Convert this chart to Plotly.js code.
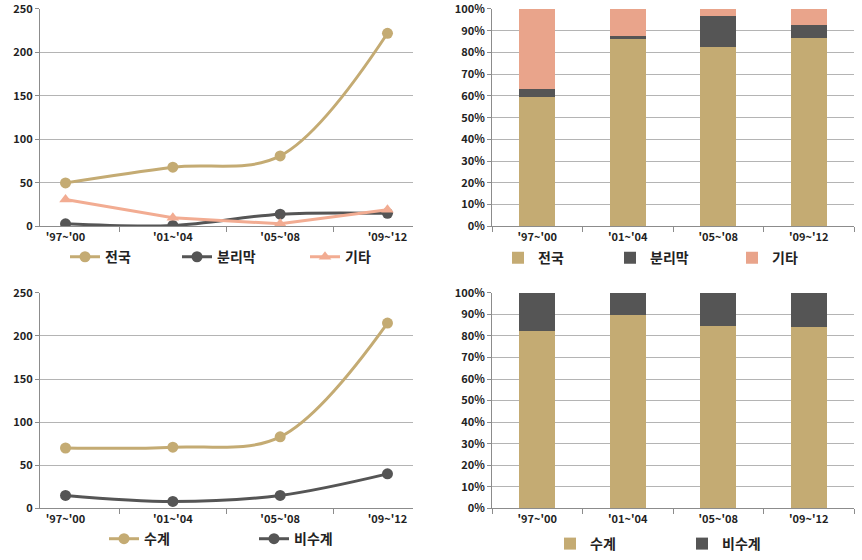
<!DOCTYPE html>
<html>
<head>
<meta charset="utf-8">
<script src="https://cdn.plot.ly/plotly-3.0.1.min.js"></script>
<style>html,body{margin:0;padding:0;background:#fff;}#chart{width:862px;height:560px;}</style>
</head>
<body>
<div id="chart"></div>
<script>
// Categories (periods)
const periods = ["'97~'00", "'01~'04", "'05~'08", "'09~'12"];

// Chart 1: by technology type
const jeonguk = [50, 68, 81, 222];    // 전국
const bunrimak = [3, 1, 14, 15];      // 분리막
const gita = [31, 10, 3, 19];         // 기타

// Chart 2: aqueous vs non-aqueous
const sugye = [70, 71, 83, 215];      // 수계
const bisugye = [15, 8, 15, 40];      // 비수계

const TAN = '#C4AB73';
const DARK = '#555555';
const SALMON = '#F2AC92';
const SALMON_BAR = '#E9A48B';
const FONT = '"Noto Sans CJK KR", "Noto Sans", sans-serif';

const traces = [
  // top-left line chart
  {x: periods, y: jeonguk, name: '전국', type: 'scatter', mode: 'lines+markers',
   line: {color: TAN, width: 3, shape: 'spline', smoothing: 1},
   marker: {color: TAN, size: 11, symbol: 'circle'}, xaxis: 'x', yaxis: 'y', legend: 'legend'},
  {x: periods, y: bunrimak, name: '분리막', type: 'scatter', mode: 'lines+markers',
   line: {color: DARK, width: 3, shape: 'spline', smoothing: 1},
   marker: {color: DARK, size: 11, symbol: 'circle'}, xaxis: 'x', yaxis: 'y', legend: 'legend2'},
  {x: periods, y: gita, name: '기타', type: 'scatter', mode: 'lines+markers',
   line: {color: SALMON, width: 3},
   marker: {color: SALMON, size: 11, symbol: 'triangle-up'}, xaxis: 'x', yaxis: 'y', legend: 'legend3'},
  // top-right stacked 100% bars
  {x: periods, y: jeonguk, name: '전국', type: 'bar', marker: {color: TAN},
   xaxis: 'x2', yaxis: 'y2', legend: 'legend4'},
  {x: periods, y: bunrimak, name: '분리막', type: 'bar', marker: {color: DARK},
   xaxis: 'x2', yaxis: 'y2', legend: 'legend5'},
  {x: periods, y: gita, name: '기타', type: 'bar', marker: {color: SALMON_BAR},
   xaxis: 'x2', yaxis: 'y2', legend: 'legend6'},
  // bottom-left line chart
  {x: periods, y: sugye, name: '수계', type: 'scatter', mode: 'lines+markers',
   line: {color: TAN, width: 3, shape: 'spline', smoothing: 1},
   marker: {color: TAN, size: 11, symbol: 'circle'}, xaxis: 'x3', yaxis: 'y3', legend: 'legend7'},
  {x: periods, y: bisugye, name: '비수계', type: 'scatter', mode: 'lines+markers',
   line: {color: DARK, width: 3, shape: 'spline', smoothing: 1},
   marker: {color: DARK, size: 11, symbol: 'circle'}, xaxis: 'x3', yaxis: 'y3', legend: 'legend8'},
  // bottom-right stacked 100% bars
  {x: periods, y: sugye, name: '수계', type: 'bar', marker: {color: TAN},
   xaxis: 'x4', yaxis: 'y4', legend: 'legend9'},
  {x: periods, y: bisugye, name: '비수계', type: 'bar', marker: {color: DARK},
   xaxis: 'x4', yaxis: 'y4', legend: 'legend10'}
];

const W = 862, H = 560;
const px = v => v / W;
const py = v => 1 - v / H;

const tickFont = {family: FONT, size: 11, color: '#222', weight: 'bold'};
const legFont = {family: FONT, size: 14, color: '#222', weight: 'bold'};

function xAxis(d0, d1, anchor) {
  return {domain: [px(d0), px(d1)], anchor: anchor, type: 'category',
    showline: true, linecolor: '#8C8C8C', linewidth: 1,
    ticks: 'outside', tickson: 'boundaries', ticklen: 5, tickcolor: '#8C8C8C',
    showgrid: false, zeroline: false, tickfont: tickFont, fixedrange: true};
}
function yAxis(d0, d1, anchor, opts) {
  return Object.assign({domain: [py(d1), py(d0)], anchor: anchor,
    showline: true, linecolor: '#8C8C8C', linewidth: 1,
    ticks: 'outside', ticklen: 4, tickcolor: '#8C8C8C',
    showgrid: true, gridcolor: '#B4B4B4', gridwidth: 1, zeroline: false,
    ticklabeloverflow: 'allow',
    tickfont: tickFont, fixedrange: true}, opts);
}
function legend(x, y) {
  return {orientation: 'h', x: px(x), y: py(y), xanchor: 'left', yanchor: 'middle',
    font: legFont, bgcolor: 'rgba(0,0,0,0)', itemwidth: 30};
}

const layout = {
  width: W, height: H,
  margin: {l: 0, r: 0, t: 0, b: 0},
  paper_bgcolor: '#fff', plot_bgcolor: '#fff',
  barmode: 'stack', barnorm: 'percent', bargap: 0.6,
  showlegend: true,
  xaxis: xAxis(40, 413, 'y'),
  yaxis: yAxis(9, 228, 'x', {range: [0, 250], dtick: 50}),
  xaxis2: xAxis(492, 854, 'y2'),
  yaxis2: yAxis(9, 228, 'x2', {range: [0, 100], dtick: 10, ticksuffix: '%'}),
  xaxis3: xAxis(40, 413, 'y3'),
  yaxis3: yAxis(295, 512, 'x3', {range: [0, 250], dtick: 50}),
  xaxis4: xAxis(492, 854, 'y4'),
  yaxis4: yAxis(295, 512, 'x4', {range: [0, 100], dtick: 10, ticksuffix: '%'}),
  legend: legend(65, 259),
  legend2: legend(177, 259),
  legend3: legend(305, 259),
  legend4: legend(498, 260),
  legend5: legend(610, 260),
  legend6: legend(732, 260),
  legend7: legend(104, 543),
  legend8: legend(254, 543),
  legend9: legend(550, 548),
  legend10: legend(682, 548)
};

Plotly.newPlot('chart', traces, layout, {displayModeBar: false, staticPlot: true});
</script>
</body>
</html>
